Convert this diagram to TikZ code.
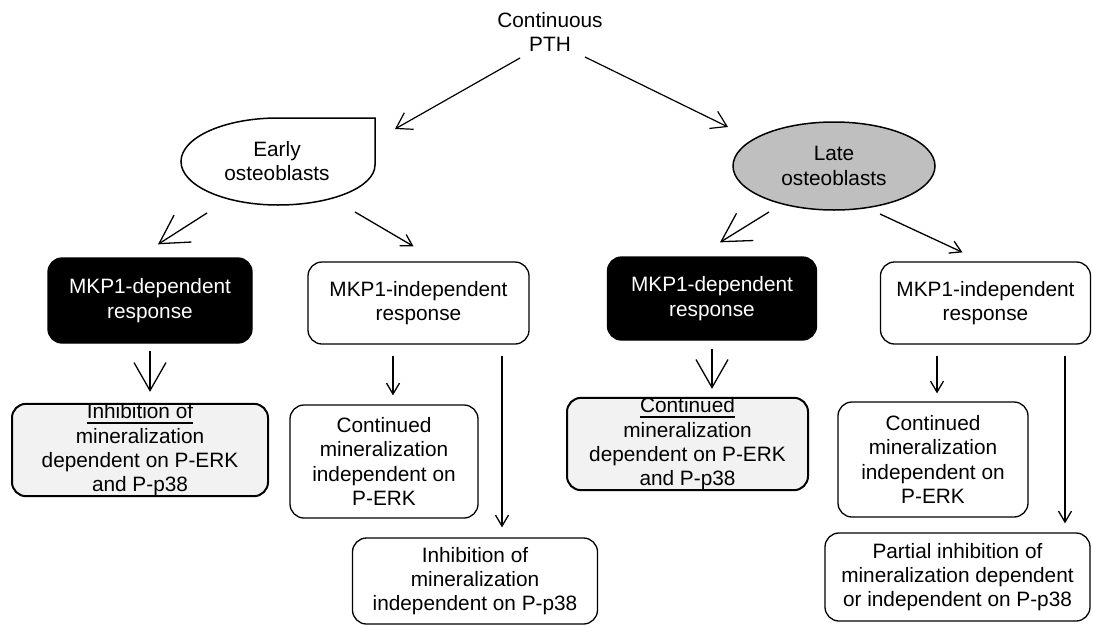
\documentclass[tikz,border=0pt]{standalone}
\usepackage{fontspec}
\setmainfont{Liberation Sans}
\usetikzlibrary{arrows.meta,calc,shapes.geometric}
\newcommand\myul[1]{\setbox0\hbox{#1}\rlap{\rule[-5pt]{\wd0}{1.8pt}}\box0}
\definecolor{lategray}{HTML}{BFBFBF}
\definecolor{boxgray}{HTML}{F2F2F2}
\begin{document}
\begin{tikzpicture}[x=1pt,y=-1pt,
  txt/.style={font=\fontsize{20.8}{24.3}\selectfont, align=center, inner sep=0pt},
  rbox/.style={txt, draw, rounded corners=14pt, line width=1.3pt},
  blackbox/.style={rbox, fill=black, text=white},
  graybox/.style={rbox, fill=boxgray, line width=2pt},
  bigarr/.style={line width=1.3pt, -{Straight Barb[length=28pt,width=32pt,line width=1.3pt]}},
  medarr/.style={line width=1.2pt, -{Straight Barb[length=15pt,width=19pt,line width=1.2pt]}},
  smallarr/.style={line width=1.3pt, -{Straight Barb[length=11pt,width=13pt,line width=1.3pt]}}
]
\useasboundingbox (0,0) rectangle (1093,627);

% top
\node[txt] (pth) at (550,32) {Continuous\\PTH};

% early osteoblasts (teardrop)
\draw[line width=1.5pt, fill=white] (375,118) -- (375,165)
  arc[start angle=0, end angle=90, x radius=97, y radius=40]
  arc[start angle=90, end angle=270, x radius=97, y radius=43.5] -- cycle;
\node[txt, minimum width=194pt, minimum height=87pt] (early) at (277,161) {Early\\osteoblasts};

% late osteoblasts
\node[txt, draw, ellipse, fill=lategray, line width=1.5pt, minimum width=202pt, minimum height=88pt] (late) at (834,166) {Late\\osteoblasts};

% second row
\node[blackbox, minimum width=204pt, minimum height=85pt] (mkpL) at (150,300.5) {MKP1-dependent\\response};
\node[rbox, minimum width=221pt, minimum height=82pt] (indL) at (418.5,303) {MKP1-independent\\response};
\node[blackbox, minimum width=209pt, minimum height=83pt] (mkpR) at (712,298.5) {MKP1-dependent\\response};
\node[rbox, minimum width=210pt, minimum height=82pt] (indR) at (985.5,303) {MKP1-independent\\response};

% third row
\node[graybox, minimum width=256pt, minimum height=91pt] (inhL) at (140,450) {\myul{Inhibition of}\\mineralization\\dependent on P-ERK\\and P-p38};
\node[rbox, minimum width=188pt, minimum height=113pt] (conL) at (384,461.5) {Continued\\mineralization\\independent on\\P-ERK};
\node[rbox, minimum width=245pt, minimum height=86pt] (inh2L) at (475,581) {Inhibition of\\mineralization\\independent on P-p38};
\node[graybox, minimum width=241pt, minimum height=92pt] (conR) at (687.5,444) {\myul{Continued}\\mineralization\\dependent on P-ERK\\and P-p38};
\node[rbox, minimum width=190pt, minimum height=115pt] (con2R) at (933,459.5) {Continued\\mineralization\\independent on\\P-ERK};
\node[rbox, minimum width=265pt, minimum height=88pt] (parR) at (957.5,577) {Partial inhibition of\\mineralization dependent\\or independent on P-p38};

% connector end points
\coordinate (pthL) at ($(pth.center)+(-30,26)$);
\coordinate (pthR) at ($(pth.center)+(35,25)$);
\coordinate (earlyL) at ($(early.center)+(-70,52)$);
\coordinate (earlyR) at ($(early.center)+(78,51)$);
\coordinate (lateL) at ($(late.center)+(-65,46)$);
\coordinate (lateR) at ($(late.center)+(46,48)$);

\draw[medarr] (pthL) -- ($(early.center)+(118,-32)$);
\draw[medarr] (pthR) -- ($(late.center)+(-106,-39)$);
\draw[bigarr] (earlyL) -- ($(mkpL.north)+(8,-13)$);
\draw[smallarr] (earlyR) -- ($(indL.north)+(-5,-15)$);
\draw[bigarr] (lateL) -- ($(mkpR.north)+(8,-14)$);
\draw[smallarr] (lateR) -- ($(indR.north)+(-23,-9)$);

\draw[bigarr] ($(mkpL.south)+(0,7)$) -- ($(inhL.north)+(10,-11)$);
\draw[smallarr] ($(indL.south)+(-25.5,11)$) -- ($(conL.north)+(9,-9)$);
\draw[smallarr] ($(indL.south)+(83.5,11)$) -- ($(inh2L.north)+(27,-10)$);
\draw[bigarr] ($(mkpR.south)+(0,8)$) -- ($(conR.north)+(24.5,-8)$);
\draw[smallarr] ($(indR.south)+(-48.5,11)$) -- ($(con2R.north)+(4,-8)$);
\draw[smallarr] ($(indR.south)+(79.5,11)$) -- ($(parR.north)+(107.5,-9)$);
\end{tikzpicture}
\end{document}
